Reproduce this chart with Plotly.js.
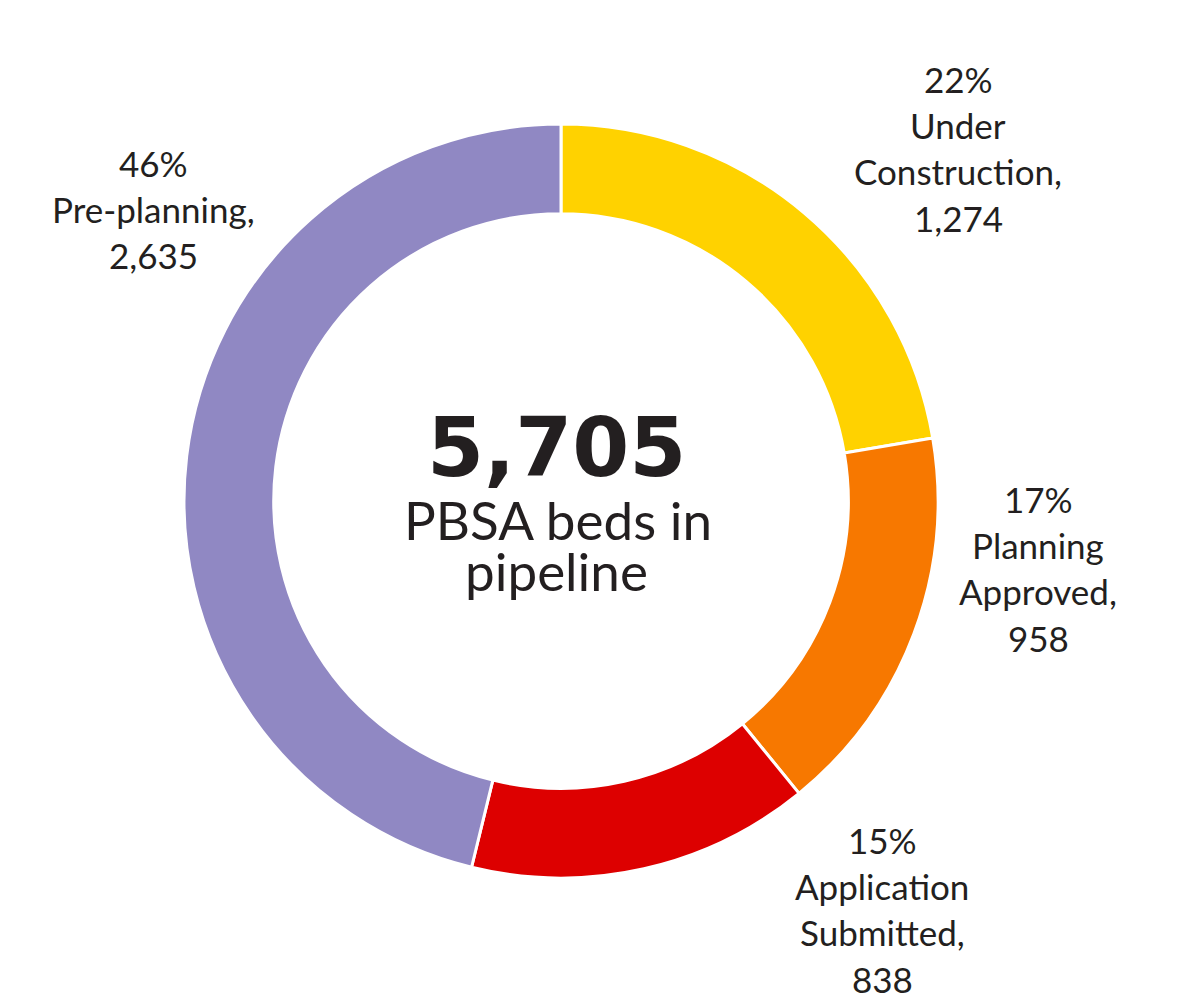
<!DOCTYPE html>
<html>
<head>
<meta charset="utf-8">
<script src="https://cdn.plot.ly/plotly-3.0.1.min.js"></script>
<style>html,body{margin:0;padding:0;background:#fff;}#chart{width:1179px;height:996px;}</style>
</head>
<body>
<div id="chart"></div>
<script>
// Data
var categories = ["Under Construction", "Planning Approved", "Application Submitted", "Pre-planning"];
var labelLines = [["Under", "Construction,"], ["Planning", "Approved,"], ["Application", "Submitted,"], ["Pre-planning,"]];
var values = [1274, 958, 838, 2635];
var colors = ["#FFD200", "#F77800", "#DD0000", "#9088C3"];
var centerSubtitle = ["PBSA beds in", "pipeline"];

// Layout helpers (pixel positions of label blocks)
var W = 1179, H = 996;
var labelPos = [
  {x: 958, y: 79},
  {x: 1038, y: 499},
  {x: 882, y: 840},
  {x: 153, y: 163}
];
var lineGap = 46.2;
var textColor = "#231F20";
var fam = "Lato, 'Open Sans', sans-serif";

var total = values.reduce(function(a, b){ return a + b; }, 0);
function fmt(n){ return n.toLocaleString("en-US"); }

var annotations = [];
function addText(txt, px, py, size, weight, family){
  annotations.push({
    text: txt, x: px / W, y: 1 - py / H, xref: "paper", yref: "paper",
    xanchor: "center", yanchor: "middle", showarrow: false,
    font: {family: family || fam, size: size, color: textColor, weight: weight || 400}
  });
}
for (var i = 0; i < values.length; i++) {
  var lines = [Math.round(values[i] / total * 100) + "%"].concat(labelLines[i]).concat([fmt(values[i])]);
  for (var j = 0; j < lines.length; j++) {
    addText(lines[j], labelPos[i].x, labelPos[i].y + j * lineGap, 35, 400);
  }
}
addText(fmt(total), 556, 447, 82, 700, "'DejaVu Sans', sans-serif");
addText(centerSubtitle[0], 558, 519, 53, 400);
addText(centerSubtitle[1], 556, 570, 53, 400);

var cx = 561, cy = 501, R = 377;
var trace = {
  type: "pie",
  labels: categories,
  values: values,
  sort: false,
  direction: "clockwise",
  rotation: 0,
  hole: 0.762,
  textinfo: "none",
  hoverinfo: "label+value+percent",
  marker: {colors: colors, line: {color: "#ffffff", width: 3}},
  domain: {x: [(cx - R) / W, (cx + R) / W], y: [(H - cy - R) / H, (H - cy + R) / H]}
};

var layout = {
  width: W, height: H,
  margin: {l: 0, r: 0, t: 0, b: 0},
  paper_bgcolor: "#ffffff",
  showlegend: false,
  annotations: annotations
};

Plotly.newPlot("chart", [trace], layout, {displayModeBar: false, staticPlot: true});
</script>
</body>
</html>
